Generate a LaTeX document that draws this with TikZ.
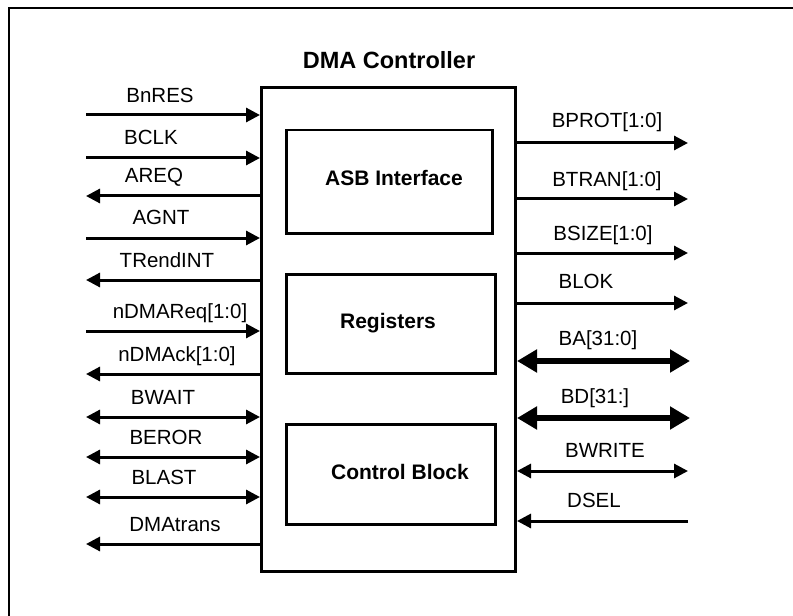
\documentclass[tikz,border=0pt]{standalone}
\usepackage{fontspec}
\setmainfont{Liberation Sans}
\usetikzlibrary{arrows.meta}
\tikzset{Sa/.tip={Triangle[length=14bp,width=14bp]},
         Ba/.tip={Triangle[length=20bp,width=22bp]}}
\begin{document}
\begin{tikzpicture}[x=1bp,y=-1bp,
  sig/.style={line width=3bp},
  bus/.style={line width=6bp},
  lbl/.style={anchor=base,inner sep=0pt,font=\fontsize{20.5bp}{24bp}\selectfont},
  blk/.style={draw,line width=2.5bp,anchor=north west,inner sep=0pt},
  blklbl/.style={inner sep=0pt,font=\fontsize{21bp}{24bp}\selectfont\bfseries}]
\useasboundingbox (0,0) rectangle (793,616);
% outer frame (cropped)
\draw[line width=2bp] (9,625) -- (9,8) -- (800,8);
% main box
\node[draw,line width=3bp,anchor=north west,minimum width=254bp,minimum height=484bp,inner sep=0pt] (main) at (260,86) {};
\node[font=\fontsize{23.5bp}{26bp}\selectfont\bfseries,inner sep=0pt] (title) at (389,60.5) {DMA Controller};
% inner blocks
\node[blk,minimum width=206bp,minimum height=103bp] (asb) at (285,129) {};
\node[blklbl] (asbl) at (394,178) {ASB Interface};
\node[blk,minimum width=209bp,minimum height=99bp] (reg) at (285,273) {};
\node[blklbl] (regl) at (388,323) {Registers};
\node[blk,minimum width=209bp,minimum height=100bp] (ctl) at (285,423) {};
\node[blklbl] (ctll) at (400,472) {Control Block};
% left side free ends
\coordinate (lBnRES) at (86,115);
\coordinate (lBCLK) at (86,158);
\coordinate (lAREQ) at (86,196);
\coordinate (lAGNT) at (86,238);
\coordinate (lTR) at (86,280);
\coordinate (lREQ) at (86,331);
\coordinate (lACK) at (86,374);
\coordinate (lBWAIT) at (86,417);
\coordinate (lBEROR) at (86,457);
\coordinate (lBLAST) at (86,497);
\coordinate (lDMA) at (86,544);
\draw[sig,-Sa] (lBnRES) -- (lBnRES -| main.west);
\draw[sig,-Sa] (lBCLK) -- (lBCLK -| main.west);
\draw[sig,-Sa] (lAREQ -| main.west) -- (lAREQ);
\draw[sig,-Sa] (lAGNT) -- (lAGNT -| main.west);
\draw[sig,-Sa] (lTR -| main.west) -- (lTR);
\draw[sig,-Sa] (lREQ) -- (lREQ -| main.west);
\draw[sig,-Sa] (lACK -| main.west) -- (lACK);
\draw[sig,Sa-Sa] (lBWAIT) -- (lBWAIT -| main.west);
\draw[sig,Sa-Sa] (lBEROR) -- (lBEROR -| main.west);
\draw[sig,Sa-Sa] (lBLAST) -- (lBLAST -| main.west);
\draw[sig,-Sa] (lDMA -| main.west) -- (lDMA);
\node[lbl] (tBnRES) at (160,103) {BnRES};
\node[lbl] (tBCLK) at (151,145) {BCLK};
\node[lbl] (tAREQ) at (154,183) {AREQ};
\node[lbl] (tAGNT) at (161,225) {AGNT};
\node[lbl] (tTR) at (167,267) {TRendINT};
\node[lbl] (tREQ) at (180,318) {nDMAReq[1:0]};
\node[lbl] (tACK) at (177,361) {nDMAck[1:0]};
\node[lbl] (tBWAIT) at (163,404) {BWAIT};
\node[lbl] (tBEROR) at (166,444) {BEROR};
\node[lbl] (tBLAST) at (164,484) {BLAST};
\node[lbl] (tDMA) at (175,531) {DMAtrans};
% right side free ends
\coordinate (rBPROT) at (688,143);
\coordinate (rBTRAN) at (688,199);
\coordinate (rBSIZE) at (688,253);
\coordinate (rBLOK) at (688,303);
\coordinate (rBA) at (690,361);
\coordinate (rBD) at (690,418);
\coordinate (rBWRITE) at (688,471);
\coordinate (rDSEL) at (688,521);
\draw[sig,-Sa] (rBPROT -| main.east) -- (rBPROT);
\draw[sig,-Sa] (rBTRAN -| main.east) -- (rBTRAN);
\draw[sig,-Sa] (rBSIZE -| main.east) -- (rBSIZE);
\draw[sig,-Sa] (rBLOK -| main.east) -- (rBLOK);
\draw[bus,Ba-Ba] (rBA -| main.east) -- (rBA);
\draw[bus,Ba-Ba] (rBD -| main.east) -- (rBD);
\draw[sig,Sa-Sa] (rBWRITE -| main.east) -- (rBWRITE);
\draw[sig,-Sa] (rDSEL) -- (rDSEL -| main.east);
\node[lbl] (tBPROT) at (607,128) {BPROT[1:0]};
\node[lbl] (tBTRAN) at (607,187) {BTRAN[1:0]};
\node[lbl] (tBSIZE) at (603,240) {BSIZE[1:0]};
\node[lbl] (tBLOK) at (586,288) {BLOK};
\node[lbl] (tBA) at (598,345) {BA[31:0]};
\node[lbl] (tBD) at (595,403) {BD[31:]};
\node[lbl] (tBWRITE) at (605,457) {BWRITE};
\node[lbl] (tDSEL) at (594,507) {DSEL};
\end{tikzpicture}
\end{document}
